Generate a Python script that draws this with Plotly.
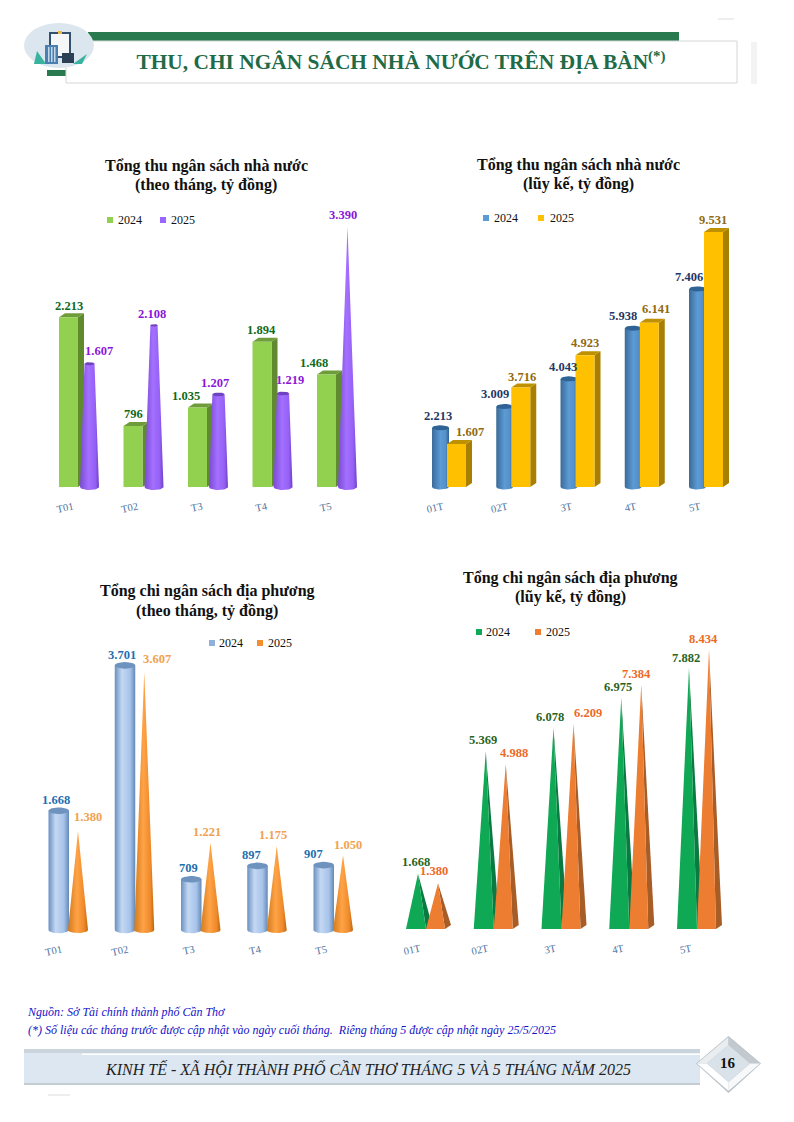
import numpy as np
import plotly.graph_objects as go

W, H = 794, 1122
SERIF = "Liberation Serif"

# ---------- data ----------
monthly_labels = ["T01", "T02", "T3", "T4", "T5"]
cumulative_labels = ["01T", "02T", "3T", "4T", "5T"]
years = ["2024", "2025"]

revenue_monthly_2024 = [2213, 796, 1035, 1894, 1468]
revenue_monthly_2025 = [1607, 2108, 1207, 1219, 3390]
revenue_cumulative_2024 = [2213, 3009, 4043, 5938, 7406]
revenue_cumulative_2025 = [1607, 3716, 4923, 6141, 9531]
spending_monthly_2024 = [1668, 3701, 709, 897, 907]
spending_monthly_2025 = [1380, 3607, 1221, 1175, 1050]
spending_cumulative_2024 = [1668, 5369, 6078, 6975, 7882]
spending_cumulative_2025 = [1380, 4988, 6209, 7384, 8434]

# ---------- layout of the panels (pixels) ----------
panels = [
    dict(title=["Tổng thu ngân sách nhà nước", "(theo tháng, tỷ đồng)"], title_x=206, title_y=[166, 185],
         labels=monthly_labels, a=revenue_monthly_2024, b=revenue_monthly_2025,
         c0=79, c4=337, base=487, scale=0.0767, tick_dx=-6,
         a_dx=[-10, -10.5, -22, -11.5, -23], a_dy=[-11, -12, -12, -12, -11],
         b_dx=[20, 8.5, 7, 17.5, 6], b_dy=[-13, -11, -11, -13.5, -12],
         a_color="#0f6a1a", b_color="#8a16d8",
         legend=[(110, 116, "#92d050"), (163, 169, "#9966ff")], legend_y=220),
    dict(title=["Tổng thu ngân sách nhà nước", "(lũy kế, tỷ đồng)"], title_x=578, title_y=[165, 184],
         labels=cumulative_labels, a=revenue_cumulative_2024, b=revenue_cumulative_2025,
         c0=448, c4=705, base=487, scale=0.02675, tick_dx=-5,
         a_dx=[-10, -17, -13.5, -17.5, -16], a_dy=[-12, -12.5, -12, -12, -12],
         b_dx=[22, 10, 8.5, 15, 8], b_dy=[-12, -11, -12, -14, -12],
         a_color="#1f3864", b_color="#8f6a10",
         legend=[(486, 492, "#5b9bd5"), (541, 548, "#ffc000")], legend_y=218),
    dict(title=["Tổng chi ngân sách địa phương", "(theo tháng, tỷ đồng)"], title_x=207, title_y=[591, 611],
         labels=monthly_labels, a=spending_monthly_2024, b=spending_monthly_2025,
         c0=68.5, c4=333.5, base=930, scale=0.0715, tick_dx=-7,
         a_dx=[-12.5, -12.75, -13, -16, -20], a_dy=[-11, -10, -11, -11, -11],
         b_dx=[19.5, 22, 6, 6, 14.5], b_dy=[-14, -13, -11, -11, -10],
         a_color="#1f6eb0", b_color="#f0a24e",
         legend=[(212, 217, "#8fb0dc"), (260, 266, "#f28e2b")], legend_y=643),
    dict(title=["Tổng chi ngân sách địa phương", "(lũy kế, tỷ đồng)"], title_x=570, title_y=[578, 597],
         labels=cumulative_labels, a=spending_cumulative_2024, b=spending_cumulative_2025,
         c0=426, c4=697, base=929, scale=0.0331, tick_dx=-6,
         a_dx=[-10, -10.75, -11.5, -11.25, -11], a_dy=[-12, -11, -11, -11, -10],
         b_dx=[8, 20.25, 26.5, 7.75, 7], b_dy=[-12, -11, -10.5, -10.5, -11],
         a_color="#2a6320", b_color="#ed6a1f",
         legend=[(479, 484, "#0fa854"), (538, 544, "#ed7d31")], legend_y=632),
]

fig = go.Figure()
PAD = 11


def px(x):
    return x / W


def py(y):
    return 1 - y / H


def poly(ax, s, scale, i, v, pts, color=None, grad=None, name=""):
    """pts are (x px from the group centre, y px above the base or value, share of v)."""
    xs = [i + p[0] / s for p in pts] + [i + pts[0][0] / s]
    ys = [p[1] / scale + p[2] * v for p in pts] + [pts[0][1] / scale + pts[0][2] * v]
    kw = dict(fillcolor=color) if grad is None else dict(
        fillgradient=dict(type="horizontal", colorscale=grad))
    fig.add_trace(go.Scatter(x=xs, y=ys, mode="lines", fill="toself", line=dict(width=0),
                             xaxis=ax[0], yaxis=ax[1], hoverinfo="skip", showlegend=False,
                             name=name, **kw))


def arc(cx, rx, ry, t0, t1, frac, n=20):
    t = np.linspace(t0, t1, n)
    return [(cx + rx * np.cos(a), ry * np.sin(a), frac) for a in t]


def box(ax, s, scale, i, v, x0, x1, front, side, top, depth=6, rise=4):
    poly(ax, s, scale, i, v, [(x1, 0, 0), (x1 + depth, rise, 0), (x1 + depth, rise, 1), (x1, 0, 1)], side)
    poly(ax, s, scale, i, v, [(x0, 0, 1), (x1, 0, 1), (x1 + depth, rise, 1), (x0 + depth, rise, 1)], top)
    poly(ax, s, scale, i, v, [(x0, 0, 0), (x1, 0, 0), (x1, 0, 1), (x0, 0, 1)], front)


def cylinder(ax, s, scale, i, v, x0, x1, grad, top, ry=3):
    cx, rx = (x0 + x1) / 2, (x1 - x0) / 2
    body = arc(cx, rx, ry, np.pi, 2 * np.pi, 0) + [(x1, 0, 1), (x0, 0, 1)]
    poly(ax, s, scale, i, v, body, grad=grad)
    poly(ax, s, scale, i, v, arc(cx, rx, ry, 0, 2 * np.pi, 1), top)


def frustum(ax, s, scale, i, v, vmax, x0, x1, grad, top, ry=3):
    cx, rx = (x0 + x1) / 2, (x1 - x0) / 2
    f = 1 - v / vmax
    body = arc(cx, rx, ry, np.pi, 2 * np.pi, 0) + [(cx + rx * f, 0, 1), (cx - rx * f, 0, 1)]
    poly(ax, s, scale, i, v, body, grad=grad)
    if f > 0.02:
        poly(ax, s, scale, i, v, arc(cx, rx * f, ry * max(f, .4), 0, 2 * np.pi, 1), top)


def pyramid(ax, s, scale, i, v, x0, x1, apex, front, side, depth=6, rise=4):
    poly(ax, s, scale, i, v, [(x1, 0, 0), (x1 + depth, rise, 0), (apex, 0, 1)], side)
    poly(ax, s, scale, i, v, [(x0, 0, 0), (x1, 0, 0), (apex, 0, 1)], front)


PURPLE = [[0, "#7a4ad6"], [0.45, "#a470ff"], [0.8, "#9560f5"], [1, "#6f40c4"]]
BLUE = [[0, "#3b6a98"], [0.5, "#5c9bd6"], [0.8, "#5590c8"], [1, "#2f5f90"]]
LIGHT = [[0, "#6a90c0"], [0.35, "#c4d8f3"], [0.75, "#a6c3ea"], [1, "#6489b6"]]
ORANGE = [[0, "#d27a1c"], [0.45, "#ffa346"], [0.8, "#ee8a2a"], [1, "#bd670f"]]

annotations = []
shapes = []

for n, p in enumerate(panels):
    suffix = "" if n == 0 else str(n + 1)
    ax = ("x" + suffix, "y" + suffix)
    s = (p["c4"] - p["c0"]) / 4
    vmax = max(p["a"] + p["b"])
    top_px = p["base"] - vmax * p["scale"] - 10
    bottom_px = p["base"] + PAD
    fig.update_layout({
        f"xaxis{suffix}": dict(
            domain=[px(p["c0"] - s / 2), px(p["c4"] + s / 2)], range=[-0.5, 4.5], anchor="y" + suffix,
            tickmode="array", tickvals=[i + p["tick_dx"] / s for i in range(5)], ticktext=p["labels"],
            tickangle=-12, tickfont=dict(family=SERIF, size=10.5, color="#4f74a0"),
            showgrid=False, zeroline=False, showline=False, ticks=""),
        f"yaxis{suffix}": dict(
            domain=[py(bottom_px), py(top_px)],
            range=[-PAD / p["scale"], (p["base"] - top_px) / p["scale"]], anchor="x" + suffix,
            visible=False, showgrid=False, zeroline=False),
    })
    for i in range(5):
        va, vb = p["a"][i], p["b"][i]
        if n == 0:
            box(ax, s, p["scale"], i, va, -20, -1, "#92d050", "#5f8a2e", "#6f9c3a")
            frustum(ax, s, p["scale"], i, vb, vmax, 1, 20, PURPLE, "#6e42c0")
        elif n == 1:
            cylinder(ax, s, p["scale"], i, va, -16, 1, BLUE, "#2f6295", ry=2.5)
            box(ax, s, p["scale"], i, vb, -1, 18, "#ffc000", "#a87f00", "#bf9000")
        elif n == 2:
            cylinder(ax, s, p["scale"], i, va, -20, 0.5, LIGHT, "#6f93bf", ry=3.3)
            frustum(ax, s, p["scale"], i, vb, vb, -0.5, 19.5, ORANGE, "#bd670f")
        else:
            pyramid(ax, s, p["scale"], i, va, -20, 0, -8, "#0fa854", "#0b7a42")
            pyramid(ax, s, p["scale"], i, vb, 0, 19, 12, "#ed7d31", "#a85c26")

        annotations.append(dict(x=i, y=va, xref=ax[0], yref=ax[1], xshift=p["a_dx"][i], yshift=-p["a_dy"][i],
                                text=f"<b>{va:,}</b>".replace(",", "."), showarrow=False,
                                font=dict(family=SERIF, size=12.5, color=p["a_color"])))
        annotations.append(dict(x=i, y=vb, xref=ax[0], yref=ax[1], xshift=p["b_dx"][i], yshift=-p["b_dy"][i],
                                text=f"<b>{vb:,}</b>".replace(",", "."), showarrow=False,
                                font=dict(family=SERIF, size=12.5, color=p["b_color"])))

    for line, y in zip(p["title"], p["title_y"]):
        annotations.append(dict(x=px(p["title_x"]), y=py(y), xref="paper", yref="paper", text=f"<b>{line}</b>",
                                xanchor="center", yanchor="middle", showarrow=False,
                                font=dict(family=SERIF, size=16, color="#111111")))
    for (sq, tx, col), yr in zip(p["legend"], years):
        shapes.append(dict(type="rect", xref="paper", yref="paper", x0=px(sq - 3), x1=px(sq + 3),
                           y0=py(p["legend_y"] + 3), y1=py(p["legend_y"] - 3), fillcolor=col, line_width=0))
        annotations.append(dict(x=px(tx), y=py(p["legend_y"]), xref="paper", yref="paper", xanchor="left",
                                yanchor="middle", text=yr, showarrow=False,
                                font=dict(family=SERIF, size=12, color="#111111")))


# ---------- page furniture ----------
def rect(x0, y0, x1, y1, fill, line=None):
    shapes.append(dict(type="rect", xref="paper", yref="paper", x0=px(x0), x1=px(x1), y0=py(y1), y1=py(y0),
                       fillcolor=fill, line=dict(color=line or fill, width=1 if line else 0), layer="below"))


def path(points, fill):
    d = "M " + " L ".join(f"{px(a):.5f},{py(b):.5f}" for a, b in points) + " Z"
    shapes.append(dict(type="path", xref="paper", yref="paper", path=d, fillcolor=fill, line_width=0, layer="below"))


def oval(x0, y0, x1, y1, fill):
    shapes.append(dict(type="circle", xref="paper", yref="paper", x0=px(x0), x1=px(x1), y0=py(y1), y1=py(y0),
                       fillcolor=fill, line_width=0, layer="below"))


rect(88, 32, 679, 41, "#2a7a50")
rect(47, 70, 66, 76, "#2a7a50")
rect(66, 41, 737, 83, "#ffffff", "#d4d8d6")
rect(751, 42, 757, 84, "#f3f3f3")
rect(718, 18, 734, 20, "#eeeeee")
rect(48, 1094, 70, 1096, "#eeeeee")
oval(24, 23, 94, 68, "#dce6ee")
path([(34, 64), (37, 51), (46, 64)], "#39b3a0")
path([(73, 64), (87, 54), (82, 64)], "#39b3a0")
rect(49, 32, 71, 58, "#33506e")
rect(51, 34, 69, 56, "#f4f6f8")
rect(58, 31, 62, 34, "#e8b84a")
rect(45, 45, 58, 64, "#4a7fb0")
for gx in (48, 51, 54):
    rect(gx, 47, gx + 1.5, 62, "#c4d8ea")
rect(62, 53, 74, 63, "#2b3f55")

rect(24, 1049, 700, 1084, "#dce7f2")
rect(24, 1049, 700, 1053, "#c9d4dc")
rect(82, 1053.5, 700, 1055, "#ffffff")
rect(24, 1083, 700, 1085, "#c3ccd3")
L, R, T, B, CX, CY = 696, 761, 1036, 1092, 728.5, 1063.5
IL, IR, IT, IB = 707, 750, 1045, 1082
path([(L, CY), (CX, T), (R, CY), (CX, B + 1)], "#b8c0c6")
path([(L + 1, CY), (CX, T + 1), (CX, IT), (IL, CY)], "#e9edf0")
path([(CX, T + 1), (R - 1, CY), (IR, CY), (CX, IT)], "#c2cad0")
path([(R - 1, CY), (CX, B - 1), (CX, IB), (IR, CY)], "#f7f8f9")
path([(CX, B - 1), (L + 1, CY), (IL, CY), (CX, IB)], "#ffffff")
path([(IL, CY), (CX, IT), (IR, CY), (CX, IB)], "#d9e1e9")

annotations.extend([
    dict(x=px(25), y=py(1012), xref="paper", yref="paper", xanchor="left", yanchor="middle", showarrow=False,
         text="<i>Nguồn: Sở Tài chính thành phố Cần Thơ</i>",
         font=dict(family=SERIF, size=12, color="#1414c8")),
    dict(x=px(26), y=py(1030), xref="paper", yref="paper", xanchor="left", yanchor="middle", showarrow=False,
         text="<i>(*) Số liệu các tháng trước được cập nhật vào ngày cuối tháng.  Riêng tháng 5 được cập nhật ngày 25/5/2025</i>",
         font=dict(family=SERIF, size=12, color="#1414c8")),
    dict(x=px(103), y=py(1068), xref="paper", yref="paper", xanchor="left", yanchor="middle", showarrow=False,
         text="<i>KINH TẾ - XÃ HỘI THÀNH PHỐ CẦN THƠ THÁNG 5 VÀ 5 THÁNG NĂM 2025</i>",
         font=dict(family=SERIF, size=16, color="#222222")),
    dict(x=px(728), y=py(1063), xref="paper", yref="paper", xanchor="center", yanchor="middle", showarrow=False,
         text="<b>16</b>", font=dict(family=SERIF, size=15, color="#111111")),
])

fig.update_layout(
    width=W, height=H, autosize=False, margin=dict(l=0, r=0, t=0, b=0),
    paper_bgcolor="#ffffff", plot_bgcolor="rgba(0,0,0,0)", showlegend=False,
    title=dict(text="<b>THU, CHI NGÂN SÁCH NHÀ NƯỚC TRÊN ĐỊA BÀN<sup>(*)</sup></b>",
               x=px(401), xref="paper", xanchor="center", y=py(62), yref="paper", yanchor="middle",
               font=dict(family=SERIF, size=21.4, color="#1f6b47")),
    annotations=annotations, shapes=shapes,
)
fig.write_html("out.html", config={"displayModeBar": False},
               post_script="document.body.style.margin='0';document.documentElement.style.overflow='hidden';")
